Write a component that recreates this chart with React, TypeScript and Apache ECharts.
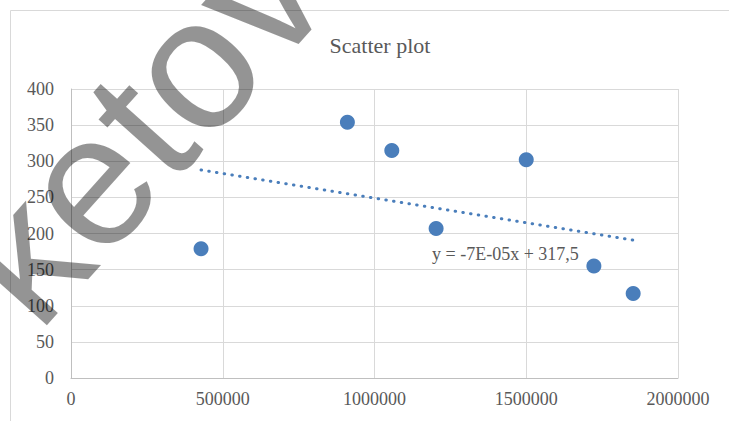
import React, { useEffect, useRef } from "react";
import * as echarts from "echarts";

const titleText = "Scatter plot";
const xValues = [428500, 910700, 1057000, 1203000, 1500000, 1722800, 1852300];
const yValues = [179, 354, 315, 207, 302, 155, 117];
const equationText = "y = -7E-05x + 317,5";
const watermarkText = "ketov";

const TEXT = "#595959";
const POINT = "#4A7EBB";
const SERIF = "Liberation Serif";

function fitLine(xs: number[], ys: number[]) {
  const n = xs.length;
  const mx = xs.reduce((a, b) => a + b, 0) / n;
  const my = ys.reduce((a, b) => a + b, 0) / n;
  let sxy = 0;
  let sxx = 0;
  for (let i = 0; i < n; i++) {
    sxy += (xs[i] - mx) * (ys[i] - my);
    sxx += (xs[i] - mx) * (xs[i] - mx);
  }
  const slope = sxy / sxx;
  const intercept = my - slope * mx;
  return { slope, intercept };
}

export default function App() {
  const ref = useRef<HTMLDivElement>(null);
  useEffect(() => {
    if (!ref.current) return;
    const chart = echarts.init(ref.current, undefined, { renderer: "svg" });
    const { slope, intercept } = fitLine(xValues, yValues);
    const minX = Math.min(...xValues);
    const maxX = Math.max(...xValues);
    const trend = [
      [minX, slope * minX + intercept],
      [maxX, slope * maxX + intercept],
    ];
    chart.setOption({
      animation: false,
      backgroundColor: "#ffffff",
      textStyle: { fontFamily: SERIF },
      title: {
        text: titleText,
        left: 375,
        top: 29,
        textAlign: "center",
        textStyle: { fontFamily: SERIF, fontSize: 22, fontWeight: "normal", color: TEXT },
      },
      grid: { left: 71, right: 51, top: 89, bottom: 43 },
      xAxis: {
        type: "value",
        min: 0,
        max: 2000000,
        interval: 500000,
        axisLine: { show: true, lineStyle: { color: "#bfbfbf", width: 1 } },
        axisTick: { show: false },
        axisLabel: {
          fontFamily: SERIF,
          fontSize: 18,
          color: TEXT,
          margin: 12,
          formatter: (v: number) => String(v),
        },
        splitLine: { show: true, lineStyle: { color: "#d9d9d9", width: 1 } },
      },
      yAxis: {
        type: "value",
        min: 0,
        max: 400,
        interval: 50,
        axisLine: { show: true, lineStyle: { color: "#bfbfbf", width: 1 } },
        axisTick: { show: false },
        axisLabel: {
          fontFamily: SERIF,
          fontSize: 18,
          color: TEXT,
          margin: 17,
          formatter: (v: number) => String(v),
        },
        splitLine: { show: true, lineStyle: { color: "#d9d9d9", width: 1 } },
      },
      series: [
        {
          type: "line",
          data: trend,
          showSymbol: false,
          symbol: "none",
          lineStyle: { color: POINT, width: 3, type: [0.5, 7.3], cap: "round" },
          z: 2,
        },
        {
          type: "scatter",
          data: xValues.map((x, i) => [x, yValues[i]]),
          symbolSize: 15,
          itemStyle: { color: POINT, opacity: 1 },
          z: 3,
        },
      ],
      graphic: [
        {
          type: "rect",
          shape: { x: 10.5, y: 10.5, width: 800, height: 500 },
          style: { fill: "none", stroke: "#d9d9d9", lineWidth: 1 },
          z: -10,
          silent: true,
        },
        {
          type: "text",
          x: 432,
          y: 254,
          style: {
            text: equationText,
            fontFamily: SERIF,
            fontSize: 18,
            fill: TEXT,
            textAlign: "left",
            textVerticalAlign: "middle",
          },
          z: 50,
        },
        {
          type: "text",
          x: 60,
          y: 354,
          rotation: 0.84,
          style: {
            text: watermarkText,
            fontFamily: "Liberation Sans",
            fontSize: 187,
            fill: "rgba(0,0,0,0.42)",
            textAlign: "left",
            textVerticalAlign: "bottom",
          },
          z: 100,
          silent: true,
        },
      ],
    });
    return () => chart.dispose();
  }, []);
  return (
    <div
      ref={ref}
      style={{ position: "fixed", left: 0, top: 0, width: 729, height: 421 }}
    />
  );
}
